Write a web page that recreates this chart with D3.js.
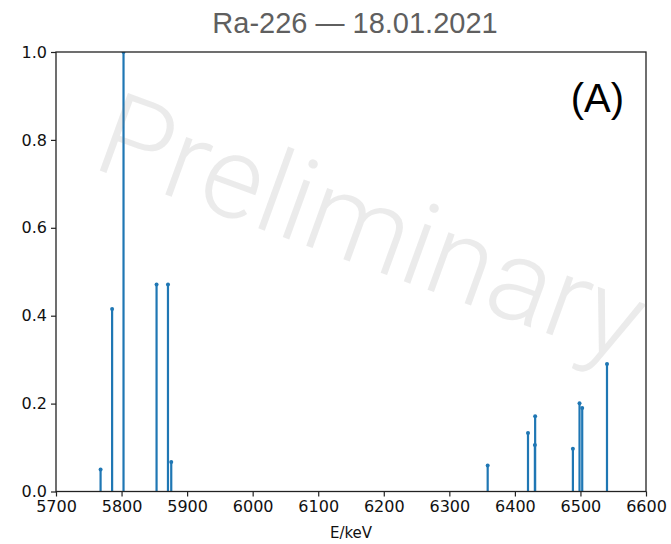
<!DOCTYPE html>
<html><head><meta charset="utf-8">
<script src="https://cdn.jsdelivr.net/npm/d3@7"></script>
<style>body{margin:0;background:#fff}svg{display:block}</style>
</head><body>
<script>
const energies = [5768, 5785.6, 5803, 5853.4, 5870.8, 5875.8, 6358.5, 6420, 6430.5, 6430.9, 6488.5, 6498.6, 6502.7, 6540.5];
const intensities = [0.050, 0.415, 1.0, 0.471, 0.471, 0.067, 0.059, 0.133, 0.106, 0.171, 0.097, 0.201, 0.190, 0.290];
const xTicks = [5700, 5800, 5900, 6000, 6100, 6200, 6300, 6400, 6500, 6600];
const yTicks = [0.0, 0.2, 0.4, 0.6, 0.8, 1.0];
const titleText = "Ra-226 — 18.01.2021";
const xLabel = "E/keV";
const panelLabel = "(A)";
const watermark = "Preliminary";

const W = 671, H = 544;
const m = {left: 56, right: 646, top: 52, bottom: 491.5};
const svg = d3.select("body").append("svg").attr("width", W).attr("height", H);

const x = d3.scaleLinear().domain([5700, 6600]).range([m.left, m.right]);
const y = d3.scaleLinear().domain([0, 1]).range([m.bottom, m.top]);

svg.append("defs").append("clipPath").attr("id", "clip")
  .append("rect").attr("x", m.left).attr("y", m.top).attr("width", m.right - m.left).attr("height", m.bottom - m.top);

const g = svg.append("g").attr("clip-path", "url(#clip)");
const data = energies.map((e, i) => ({e, v: intensities[i]}));
g.selectAll("line.stem").data(data).enter().append("line")
  .attr("class", "stem")
  .attr("x1", d => x(d.e)).attr("x2", d => x(d.e))
  .attr("y1", y(0)).attr("y2", d => y(d.v))
  .attr("stroke", "#1f77b4").attr("stroke-width", 2.2);
g.selectAll("circle").data(data).enter().append("circle")
  .attr("cx", d => x(d.e)).attr("cy", d => y(d.v)).attr("r", 2)
  .attr("fill", "#1f77b4");

// axes
const xAxis = d3.axisBottom(x).tickValues(xTicks).tickSize(5).tickPadding(4).tickFormat(d3.format("d"));
const yAxis = d3.axisLeft(y).tickValues(yTicks).tickSize(5).tickPadding(4).tickFormat(d3.format(".1f"));
const gx = svg.append("g").attr("transform", `translate(0,${m.bottom})`).call(xAxis);
const gy = svg.append("g").attr("transform", `translate(${m.left},0)`).call(yAxis);
[gx, gy].forEach(a => {
  a.select(".domain").remove();
  a.selectAll("line").attr("stroke", "#222").attr("stroke-width", 1.2);
  a.selectAll("text").attr("fill", "#111").style("font-family", "DejaVu Sans").style("font-size", "16px");
});

// frame
svg.append("rect").attr("x", m.left).attr("y", m.top)
  .attr("width", m.right - m.left).attr("height", m.bottom - m.top)
  .attr("fill", "none").attr("stroke", "#222").attr("stroke-width", 1.3);

// labels
svg.append("text").attr("x", 355).attr("y", 33).attr("text-anchor", "middle")
  .style("font-family", "Liberation Sans, Arial, sans-serif").style("font-size", "29px")
  .attr("fill", "#5f5f5f").text(titleText);
svg.append("text").attr("x", (m.left + m.right) / 2).attr("y", 538).attr("text-anchor", "middle")
  .style("font-family", "DejaVu Sans").style("font-size", "15px").attr("fill", "#111").text(xLabel);
svg.append("text").attr("x", 624).attr("y", 112).attr("text-anchor", "end")
  .style("font-family", "Liberation Sans, Arial, sans-serif").style("font-size", "40px")
  .attr("fill", "#000").text(panelLabel);

// watermark
svg.append("text").attr("transform", "translate(90,167) rotate(20)")
  .style("font-family", "Roboto, Liberation Sans, sans-serif").style("font-weight", "300").style("font-size", "116px")
  .attr("fill", "#808080").attr("fill-opacity", 0.16).text(watermark);
</script>
</body></html>
